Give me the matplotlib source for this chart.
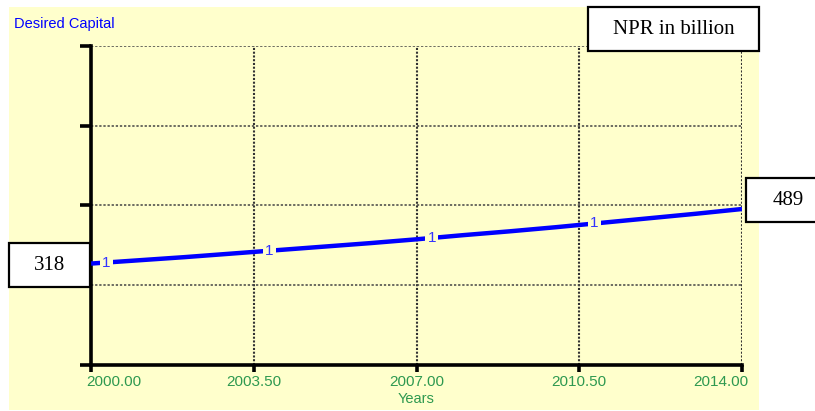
import matplotlib
matplotlib.use("Agg")
import matplotlib.pyplot as plt
from matplotlib.patches import Rectangle

# data
years = [2000, 2001, 2002, 2003, 2004, 2005, 2006, 2007,
         2008, 2009, 2010, 2011, 2012, 2013, 2014]
capital = [318, 328, 338, 349, 360, 371, 382, 394,
           407, 419, 432, 446, 460, 474, 489]
xticks = [2000.0, 2003.5, 2007.0, 2010.5, 2014.0]
xticklabels = ["2000.00", "2003.50", "2007.00", "2010.50", "2014.00"]
yticks = [0, 250, 500, 750, 1000]
marker_years = [2000.33, 2003.83, 2007.33, 2010.83]

W, H = 815, 411
bg = "#ffffcc"
green = "#2e9950"
blue = "#0000ff"

plt.rcParams['font.family'] = ['Liberation Sans', 'DejaVu Sans']

fig = plt.figure(figsize=(W / 100, H / 100), dpi=100)
fig.patch.set_facecolor("white")

# yellow panel behind the chart
fig.patches.append(Rectangle((9 / W, 1 - 410 / H), 750 / W, 403 / H,
                             transform=fig.transFigure, facecolor=bg,
                             edgecolor="none", zorder=-5))

ax = fig.add_axes([91 / W, 1 - 365 / H, (742 - 91) / W, (365 - 46) / H])
ax.set_zorder(1)
ax.set_facecolor("none")

ax.plot(years, capital, color=blue, lw=3.2, solid_capstyle="butt", zorder=3)
for my in marker_years:
    # place the "1" marker on the curve
    yv = 318 * (489 / 318) ** ((my - 2000) / 14)
    ax.text(my, yv, "1", color="#3333ff", fontsize=11, ha="center", va="center",
            zorder=4, bbox=dict(boxstyle="square,pad=0.15", fc=bg, ec="none"))

ax.set_xlim(2000, 2014)
ax.set_ylim(0, 1000)

for x in xticks[1:]:
    ax.axvline(x, color="#333333", lw=1.5, ls=(0, (1, 0.8)), zorder=1)
for y in yticks[1:]:
    ax.axhline(y, color="#444444", lw=1.1, ls=(0, (1.5, 1.2)), zorder=1)

for s in ["top", "right"]:
    ax.spines[s].set_visible(False)
ax.spines["left"].set_linewidth(2.6)
ax.spines["bottom"].set_linewidth(2.6)

ax.set_xticks(xticks)
ax.set_xticklabels([])
ax.set_yticks(yticks)
ax.set_yticklabels([])
ax.tick_params(axis="x", direction="out", length=5, width=2.6, color="black")
ax.tick_params(axis="y", direction="out", length=8, width=2.6, color="black")

# x tick labels (end labels pulled inside)
for i, (x, lab) in enumerate(zip(xticks, xticklabels)):
    ha = "center"
    dx = 0
    if i == 0:
        ha, dx = "left", -5
    elif i == len(xticks) - 1:
        ha, dx = "right", 6
    ax.annotate(lab, xy=(x, 0), xycoords="data", xytext=(dx, -17),
                textcoords="offset pixels", ha=ha, va="center",
                color=green, fontsize=11, annotation_clip=False)

fig.text(416 / W, 1 - 399 / H, "Years", color=green, fontsize=10.5,
         ha="center", va="center")
fig.text(14 / W, 1 - 24 / H, "Desired Capital", color=blue, fontsize=10.5,
         ha="left", va="center")


def box(x0, y0, x1, y1, label):
    fig.patches.append(Rectangle((x0 / W, 1 - y1 / H), (x1 - x0) / W, (y1 - y0) / H,
                                 transform=fig.transFigure, facecolor="white",
                                 edgecolor="black", lw=1.6, zorder=5))
    fig.text((x0 + x1) / 2 / W, 1 - (y0 + y1) / 2 / H, label,
             family="Liberation Serif", fontsize=15, ha="center", va="center",
             zorder=6)


box(588, 7, 759, 51, "NPR in billion")
box(9, 243, 90, 287, "318")
box(746, 178, 830, 222, "489")

fig.savefig("out.png", dpi=100)
